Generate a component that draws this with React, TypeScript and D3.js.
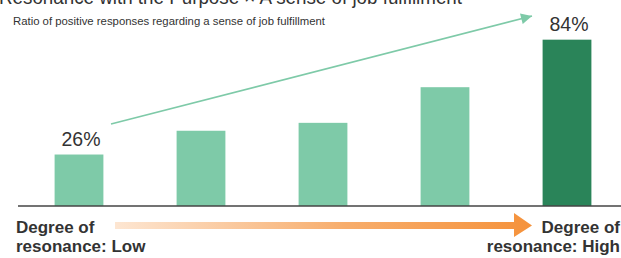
import * as d3 from 'd3'
import { useRef, useEffect } from 'react'

const levels = ['1', '2', '3', '4', '5']
const ratios = [26, 38, 42, 60, 84]
const shownLabels = ['26%', '', '', '', '84%']
const title = 'Resonance with the Purpose × A sense of job fulfillment'
const subtitle = 'Ratio of positive responses regarding a sense of job fulfillment'

const W = 621
const H = 258
const FONT = '"Helvetica Neue", Helvetica, Arial, "Liberation Sans", sans-serif'

export default function App() {
  const svgRef = useRef<SVGSVGElement>(null)

  useEffect(() => {
    const svg = d3.select(svgRef.current)
    svg.selectAll('*').remove()

    const baseY = 206
    const x = d3.scaleBand().domain(levels).range([18, 628]).paddingInner(0.6).paddingOuter(0.3)
    const y = d3.scaleLinear().domain([0, 100]).range([baseY, 8])

    const defs = svg.append('defs')
    const grad = defs.append('linearGradient')
      .attr('id', 'orangeGrad')
      .attr('gradientUnits', 'userSpaceOnUse')
      .attr('x1', 115).attr('x2', 532).attr('y1', 0).attr('y2', 0)
    grad.append('stop').attr('offset', '0%').attr('stop-color', '#fde6d2')
    grad.append('stop').attr('offset', '55%').attr('stop-color', '#f7ad6c')
    grad.append('stop').attr('offset', '100%').attr('stop-color', '#f5923b')

    defs.append('marker')
      .attr('id', 'greenHead')
      .attr('viewBox', '0 0 10 10')
      .attr('refX', 10).attr('refY', 5)
      .attr('markerWidth', 15).attr('markerHeight', 11)
      .attr('markerUnits', 'userSpaceOnUse')
      .attr('orient', 'auto')
      .append('path')
      .attr('d', 'M0,0 L10,5 L0,10 Z')
      .attr('fill', '#7ecaa8')

    // title (cut off at top) and subtitle
    svg.append('text')
      .attr('x', -1).attr('y', 4)
      .attr('font-family', FONT).attr('font-size', 21)
      .attr('fill', '#333')
      .attr('textLength', 463).attr('lengthAdjust', 'spacingAndGlyphs')
      .text(title)
    svg.append('text')
      .attr('x', 13).attr('y', 25)
      .attr('font-family', FONT).attr('font-size', 11)
      .attr('fill', '#333')
      .attr('textLength', 312).attr('lengthAdjust', 'spacingAndGlyphs')
      .text(subtitle)

    // bars
    svg.selectAll('rect.bar')
      .data(levels)
      .enter()
      .append('rect')
      .attr('class', 'bar')
      .attr('x', d => x(d)!)
      .attr('y', (d, i) => y(ratios[i]))
      .attr('width', x.bandwidth())
      .attr('height', (d, i) => baseY - y(ratios[i]))
      .attr('fill', (d, i) => i === levels.length - 1 ? '#2a8459' : '#7ecaa8')

    svg.selectAll('text.val')
      .data(levels)
      .enter()
      .append('text')
      .attr('class', 'val')
      .attr('x', d => x(d)! + x.bandwidth() / 2 + 2)
      .attr('y', (d, i) => y(ratios[i]) - 9)
      .attr('text-anchor', 'middle')
      .attr('font-family', FONT).attr('font-size', 19.5)
      .attr('fill', '#333')
      .text((d, i) => shownLabels[i])

    // baseline
    svg.append('line')
      .attr('x1', 18).attr('x2', W).attr('y1', baseY).attr('y2', baseY)
      .attr('stroke', '#444').attr('stroke-width', 1.5)

    // green trend arrow
    svg.append('line')
      .attr('x1', 111).attr('y1', 124)
      .attr('x2', 532).attr('y2', 16)
      .attr('stroke', '#7ecaa8').attr('stroke-width', 1.6)
      .attr('marker-end', 'url(#greenHead)')

    // orange gradient arrow
    svg.append('path')
      .attr('d', 'M115,222 L514,222 L514,213 L532,225.5 L514,237 L514,229 L115,229 Z')
      .attr('fill', 'url(#orangeGrad)')

    const lab = svg.append('g')
      .attr('font-family', FONT).attr('font-size', 17)
      .attr('font-weight', 'bold').attr('fill', '#333')
    lab.append('text').attr('x', 16).attr('y', 233).text('Degree of')
    lab.append('text').attr('x', 16).attr('y', 252).text('resonance: Low')
    lab.append('text').attr('x', 620).attr('y', 233).attr('text-anchor', 'end').text('Degree of')
    lab.append('text').attr('x', 620).attr('y', 252).attr('text-anchor', 'end').text('resonance: High')
  }, [])

  return (
    <svg ref={svgRef} width={W} height={H}
      style={{ position: 'absolute', left: 0, top: 0, background: '#fff' }} />
  )
}
